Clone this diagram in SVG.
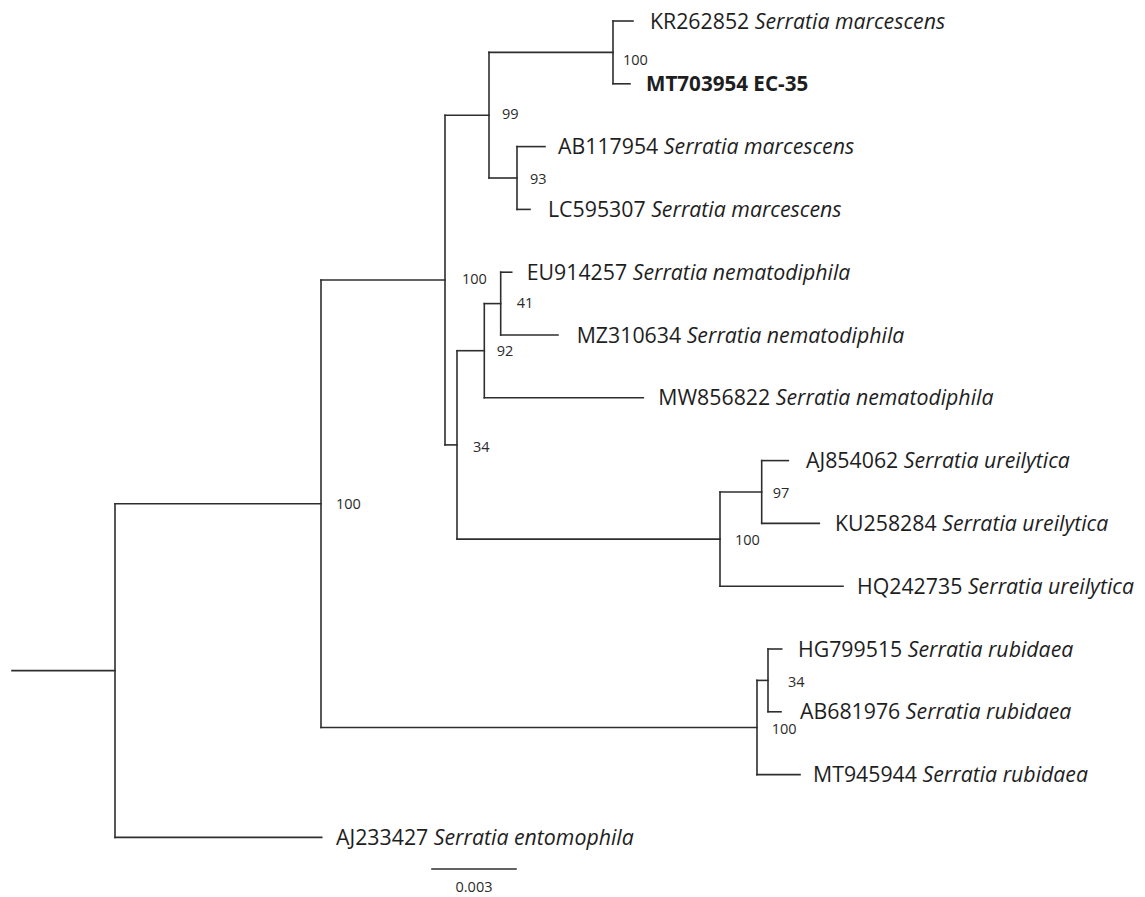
<svg xmlns="http://www.w3.org/2000/svg" width="1145" height="897" viewBox="0 0 1145 897">
<style>
.br{fill:none;stroke:#2e2e2e;stroke-width:1.6;stroke-linecap:square}
.lf{font-family:"Open Sans","DejaVu Sans",sans-serif;font-size:21.3px;fill:#1e1e1e}
.sp{font-style:italic}
.bd{font-weight:bold;font-size:20.6px}
.bs{font-family:"Open Sans","DejaVu Sans",sans-serif;font-size:14.5px;fill:#2a2a2a}
.sc{font-family:"Open Sans","DejaVu Sans",sans-serif;font-size:14.5px;fill:#2a2a2a;text-anchor:middle}
</style>
<rect width="1145" height="897" fill="#ffffff"/>
<g id="connectors">
<path class="br" d="M12 670.6H115"/>
<path class="br" d="M115 503.8V837.4"/>
<path class="br" d="M115 503.8H321"/>
<path class="br" d="M115 837.4H321.7"/>
<path class="br" d="M321 280V727.5"/>
<path class="br" d="M321 280H445"/>
<path class="br" d="M321 727.5H757"/>
<path class="br" d="M445 115.2V444.9"/>
<path class="br" d="M445 115.2H489"/>
<path class="br" d="M445 444.9H457"/>
<path class="br" d="M489 52.4V178"/>
<path class="br" d="M489 52.4H613"/>
<path class="br" d="M489 178H517"/>
<path class="br" d="M613 21V83.8"/>
<path class="br" d="M613 21H633"/>
<path class="br" d="M613 83.8H630"/>
<path class="br" d="M517 146.6V209.4"/>
<path class="br" d="M517 146.6H545"/>
<path class="br" d="M517 209.4H530"/>
<path class="br" d="M457 350.7V539.1"/>
<path class="br" d="M457 350.7H484.3"/>
<path class="br" d="M457 539.1H720"/>
<path class="br" d="M484.3 303.6V397.8"/>
<path class="br" d="M484.3 303.6H500.7"/>
<path class="br" d="M484.3 397.8H643.3"/>
<path class="br" d="M500.7 272.2V335"/>
<path class="br" d="M500.7 272.2H511.7"/>
<path class="br" d="M500.7 335H558"/>
<path class="br" d="M720 492V586.2"/>
<path class="br" d="M720 492H761.7"/>
<path class="br" d="M720 586.2H843"/>
<path class="br" d="M761.7 460.6V523.4"/>
<path class="br" d="M761.7 460.6H788.3"/>
<path class="br" d="M761.7 523.4H819.3"/>
<path class="br" d="M757 680.4V774.6"/>
<path class="br" d="M757 680.4H768"/>
<path class="br" d="M757 774.6H800"/>
<path class="br" d="M768 649V711.8"/>
<path class="br" d="M768 649H781.7"/>
<path class="br" d="M768 711.8H781"/>
</g>
<g id="leaf-KR262852"><text class="lf" x="650" y="28.6">KR262852 <tspan class="sp">Serratia marcescens</tspan></text></g>
<g id="leaf-MT703954"><text class="lf bd" x="646" y="91.2">MT703954 EC-35</text></g>
<g id="leaf-AB117954"><text class="lf" x="558" y="154.2">AB117954 <tspan class="sp">Serratia marcescens</tspan></text></g>
<g id="leaf-LC595307"><text class="lf" x="548" y="217">LC595307 <tspan class="sp">Serratia marcescens</tspan></text></g>
<g id="leaf-EU914257"><text class="lf" x="526.7" y="279.8">EU914257 <tspan class="sp">Serratia nematodiphila</tspan></text></g>
<g id="leaf-MZ310634"><text class="lf" x="576.7" y="342.6">MZ310634 <tspan class="sp">Serratia nematodiphila</tspan></text></g>
<g id="leaf-MW856822"><text class="lf" x="658.3" y="405.4">MW856822 <tspan class="sp">Serratia nematodiphila</tspan></text></g>
<g id="leaf-AJ854062"><text class="lf" x="806" y="468.2">AJ854062 <tspan class="sp">Serratia ureilytica</tspan></text></g>
<g id="leaf-KU258284"><text class="lf" x="835" y="531">KU258284 <tspan class="sp">Serratia ureilytica</tspan></text></g>
<g id="leaf-HQ242735"><text class="lf" x="857" y="593.8">HQ242735 <tspan class="sp">Serratia ureilytica</tspan></text></g>
<g id="leaf-HG799515"><text class="lf" x="798" y="656.6">HG799515 <tspan class="sp">Serratia rubidaea</tspan></text></g>
<g id="leaf-AB681976"><text class="lf" x="800" y="719.4">AB681976 <tspan class="sp">Serratia rubidaea</tspan></text></g>
<g id="leaf-MT945944"><text class="lf" x="813" y="782.2">MT945944 <tspan class="sp">Serratia rubidaea</tspan></text></g>
<g id="leaf-AJ233427"><text class="lf" x="336" y="845">AJ233427 <tspan class="sp">Serratia entomophila</tspan></text></g>
<g id="node-KR-MT"><text class="bs" x="623" y="65.2">100</text></g>
<g id="node-99"><text class="bs" x="502" y="118.5">99</text></g>
<g id="node-93"><text class="bs" x="530" y="183.5">93</text></g>
<g id="node-marc-nemat"><text class="bs" x="462" y="284.2">100</text></g>
<g id="node-41"><text class="bs" x="516.7" y="307.9">41</text></g>
<g id="node-92"><text class="bs" x="496.7" y="355.9">92</text></g>
<g id="node-34"><text class="bs" x="473" y="451.9">34</text></g>
<g id="node-ureil"><text class="bs" x="735" y="544.5">100</text></g>
<g id="node-97"><text class="bs" x="772.7" y="497.9">97</text></g>
<g id="node-34r"><text class="bs" x="788" y="686.9">34</text></g>
<g id="node-rubid"><text class="bs" x="771.7" y="733.5">100</text></g>
<g id="node-ingroup"><text class="bs" x="336" y="509.2">100</text></g>
<g id="scale-bar">
<path class="br" d="M432 869H516" stroke-linecap="butt"/>
<text class="sc" x="474" y="892">0.003</text>
</g>
</svg>
